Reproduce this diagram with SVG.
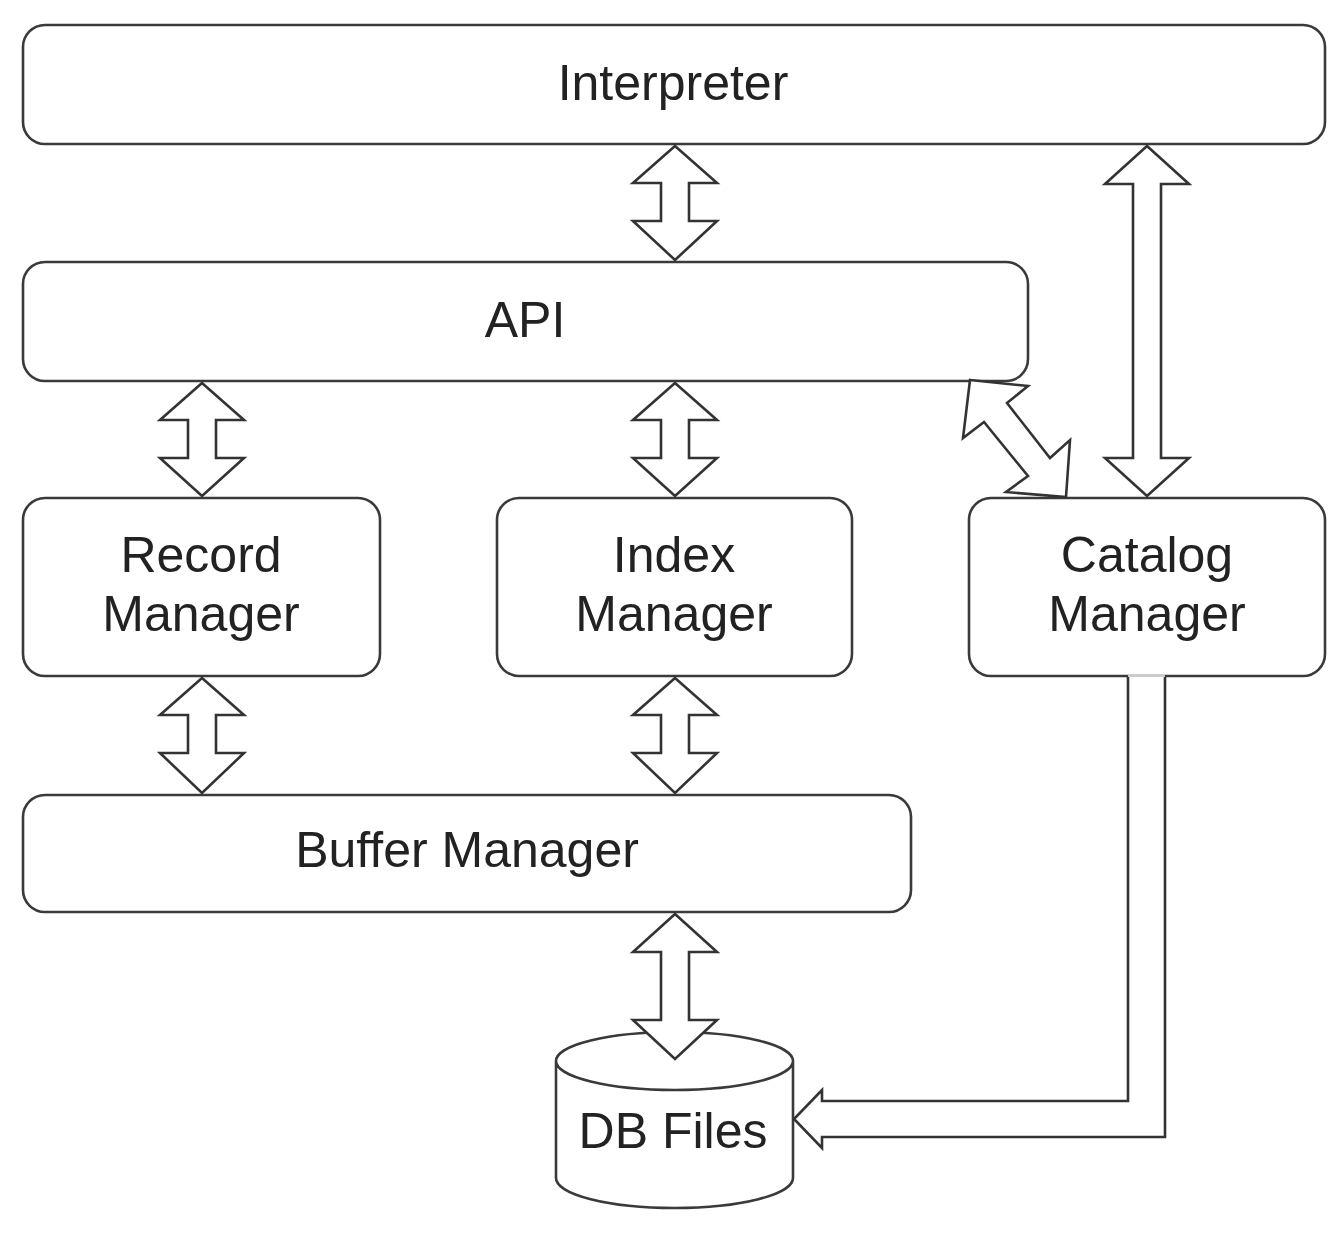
<svg xmlns="http://www.w3.org/2000/svg" width="1344" height="1246" viewBox="0 0 1344 1246">
<style>
.box{fill:#fff;stroke:#3a3a3a;stroke-width:2.6}
.arr{fill:#fff;stroke:#333;stroke-width:2.6;stroke-linejoin:miter}
.t{font-family:"Liberation Sans",Arial,sans-serif;font-size:50px;fill:#222;text-anchor:middle}
</style>
<rect width="1344" height="1246" fill="#fff"/>
<g id="interpreter"><rect class="box" x="23" y="25" width="1302" height="119" rx="22"/><text class="t" x="673" y="100">Interpreter</text></g>
<g id="api"><rect class="box" x="23" y="262" width="1005" height="119" rx="22"/><text class="t" x="525" y="337">API</text></g>
<g id="record"><rect class="box" x="23" y="498" width="357" height="178" rx="22"/><text class="t" x="201" y="572">Record</text><text class="t" x="201" y="631">Manager</text></g>
<g id="index"><rect class="box" x="497" y="498" width="355" height="178" rx="22"/><text class="t" x="674" y="572">Index</text><text class="t" x="674" y="631">Manager</text></g>
<g id="catalog"><rect class="box" x="969" y="498" width="356" height="178" rx="22"/><text class="t" x="1147" y="572">Catalog</text><text class="t" x="1147" y="631">Manager</text></g>
<g id="buffer"><rect class="box" x="23" y="795" width="888" height="117" rx="22"/><text class="t" x="467" y="867">Buffer Manager</text></g>
<g id="dbfiles">
<path class="box" d="M556,1061 L556,1178 A118.5,30 0 0 0 793,1178 L793,1061 A118.5,29 0 0 0 556,1061 A118.5,29 0 0 0 793,1061"/>
<text class="t" x="673" y="1148">DB Files</text>
</g>
<g id="connectors">
<polygon class="arr" points="675,146 717,183 689,183 689,221 717,221 675,260 633,221 661,221 661,183 633,183"/>
<polygon class="arr" points="202,383 244,420 216,420 216,458 244,458 202,496 160,458 188,458 188,420 160,420"/>
<polygon class="arr" points="675,383 717,420 689,420 689,458 717,458 675,496 633,458 661,458 661,420 633,420"/>
<polygon class="arr" points="202,678 244,715 216,715 216,753 244,753 202,793 160,753 188,753 188,715 160,715"/>
<polygon class="arr" points="675,678 717,715 689,715 689,753 717,753 675,793 633,753 661,753 661,715 633,715"/>
<polygon class="arr" points="675,914 717,952 689,952 689,1020 717,1020 675,1059 633,1020 661,1020 661,952 633,952"/>
<polygon class="arr" points="1147,146 1189,184 1161,184 1161,458 1189,458 1147,496 1105,458 1133,458 1133,184 1105,184"/>
<polygon class="arr" points="970,380 1028,386 1007,403 1050,458 1070,440 1066,497 1006,492 1028,476 984,422 963,438"/>
<polygon points="1128,675 1128,1101 822,1101 822,1090 794,1119 822,1148 822,1137 1165,1137 1165,675" fill="#fff" stroke="none"/>
<polyline class="arr" points="1128,677 1128,1101 822,1101 822,1090 794,1119 822,1148 822,1137 1165,1137 1165,677" fill="none"/>
<line x1="1128" y1="676" x2="1165" y2="676" stroke="#ccc" stroke-width="2"/>
</g>
</svg>
